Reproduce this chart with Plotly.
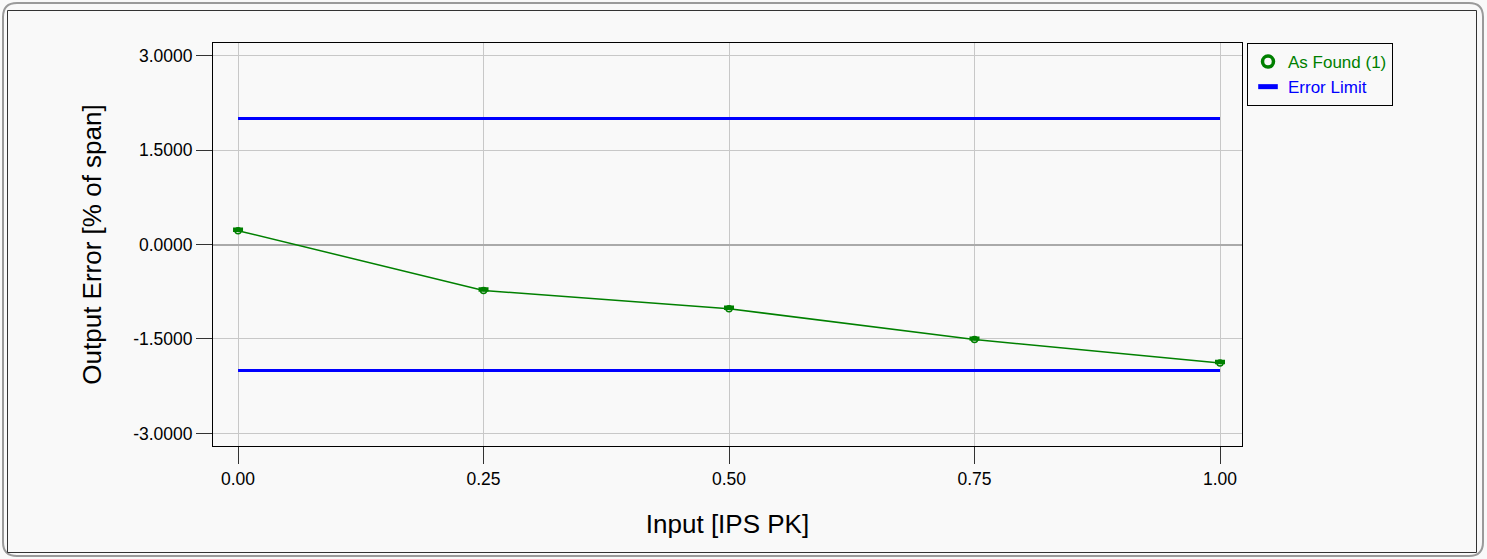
import plotly.graph_objects as go

x_input = [0.0, 0.25, 0.5, 0.75, 1.0]
as_found = [0.22, -0.73, -1.02, -1.51, -1.88]
limit_x = [0.0, 1.0]
upper_limit = [2.0, 2.0]
lower_limit = [-2.0, -2.0]
y_ticks = [-3.0, -1.5, 0.0, 1.5, 3.0]
y_tick_text = ["-3.0000", "-1.5000", "0.0000", "1.5000", "3.0000"]
x_ticks = [0.0, 0.25, 0.5, 0.75, 1.0]
x_tick_text = ["0.00", "0.25", "0.50", "0.75", "1.00"]

W, H = 1487, 559
L, R, T, B = 213, 1242, 43, 446

def px(xp):
    return (xp - L) / (R - L)

def py(yp):
    return (B - yp) / (B - T)

GREEN = "#008000"
BLUE = "#0000ff"

fig = go.Figure()
fig.add_trace(go.Scatter(
    x=x_input, y=as_found, mode="lines+markers", showlegend=False,
    line=dict(color=GREEN, width=1.5),
    marker=dict(symbol="circle-open", size=6, color=GREEN, line=dict(width=1.5)),
    error_y=dict(type="data", array=[0.03]*5, arrayminus=[0]*5, color=GREEN, thickness=2.5, width=5),
))
fig.add_trace(go.Scatter(
    x=limit_x, y=upper_limit, mode="lines", showlegend=False,
    line=dict(color=BLUE, width=3),
))
fig.add_trace(go.Scatter(
    x=limit_x, y=lower_limit, mode="lines", showlegend=False,
    line=dict(color=BLUE, width=3),
))
# legend entries
fig.add_trace(go.Scatter(
    x=[None], y=[None], mode="markers",
    name="<span style='color:#008000'>As Found (1)</span>",
    marker=dict(symbol="circle-open", size=11, color=GREEN, line=dict(width=3.5)),
))
fig.add_trace(go.Scatter(
    x=[None], y=[None], mode="markers",
    name="<span style='color:#0000ff'>Error Limit</span>",
    marker=dict(symbol="line-ew", size=14, color=BLUE, line=dict(width=6, color=BLUE)),
))

def rrect(x0, y0, x1, y1, r):
    X0, X1 = px(x0), px(x1)
    Y0, Y1 = py(y0), py(y1)
    rx = r / (R - L)
    ry = r / (B - T)
    return (f"M {X0+rx},{Y0} L {X1-rx},{Y0} Q {X1},{Y0} {X1},{Y0-ry} "
            f"L {X1},{Y1+ry} Q {X1},{Y1} {X1-rx},{Y1} L {X0+rx},{Y1} "
            f"Q {X0},{Y1} {X0},{Y1+ry} L {X0},{Y0-ry} Q {X0},{Y0} {X0+rx},{Y0} Z")

fig.add_shape(type="path", xref="paper", yref="paper", path=rrect(3, 3, 1483, 556, 14),
              line=dict(color="#9a9a9a", width=2), layer="below")
fig.add_shape(type="rect", xref="paper", yref="paper",
              x0=px(7.5), x1=px(1476.5), y0=py(10.5), y1=py(552.5),
              line=dict(color="#333333", width=1), layer="below")

fig.update_layout(
    width=W, height=H,
    margin=dict(l=L, r=W - R, t=T, b=H - B),
    paper_bgcolor="#f9f9f9", plot_bgcolor="#f9f9f9",
    font=dict(family="Liberation Sans, Arial, sans-serif", size=17.5, color="#000000"),
    showlegend=True,
    legend=dict(x=px(1247), y=1.0, xanchor="left", yanchor="top",
                bordercolor="#000000", borderwidth=1, bgcolor="#f9f9f9",
                font=dict(size=17), tracegroupgap=0, itemwidth=30),
    xaxis=dict(range=[-0.0255, 1.0224], tickvals=x_ticks, ticktext=x_tick_text,
               showgrid=True, gridcolor="#c8c8c8", gridwidth=1,
               showline=True, linecolor="#000000", linewidth=1, mirror=True,
               ticks="outside", ticklen=17, tickcolor="#333333",
               zeroline=False,
               title=dict(text="Input [IPS PK]", font=dict(size=26), standoff=26)),
    yaxis=dict(range=[-3.2, 3.2], tickvals=y_ticks, ticktext=y_tick_text,
               showgrid=True, gridcolor="#c8c8c8", gridwidth=1,
               showline=True, linecolor="#000000", linewidth=1, mirror=True,
               ticks="outside", ticklen=16, tickcolor="#333333",
               zeroline=True, zerolinecolor="#aaaaaa", zerolinewidth=2,
               title=dict(text="Output Error [% of span]", font=dict(size=26), standoff=24)),
)

fig.write_html("out.html", config={"displayModeBar": False},
               post_script="document.body.style.margin='0';document.body.style.overflow='hidden';")
